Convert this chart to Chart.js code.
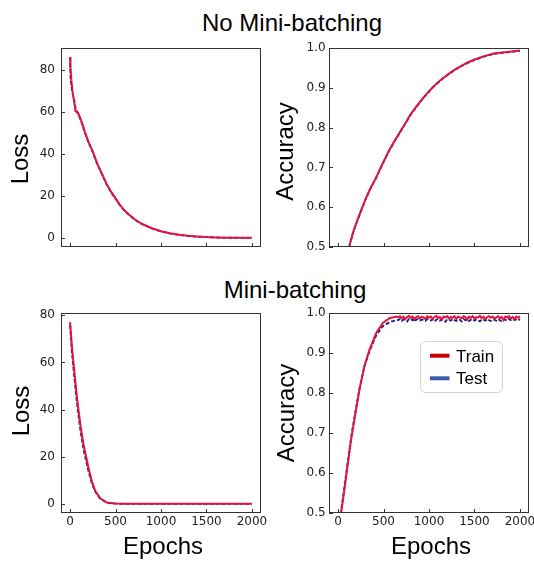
<!DOCTYPE html>
<html><head><meta charset="utf-8">
<script src="https://cdn.jsdelivr.net/npm/chart.js@4/dist/chart.umd.min.js"></script>
<style>
html,body{margin:0;padding:0;background:#fff;}
body{width:534px;height:563px;position:relative;overflow:hidden;font-family:"Liberation Sans",Arial,sans-serif;}
canvas{position:absolute;}
.ttl{position:absolute;font-size:24px;line-height:24px;color:#000;white-space:nowrap;transform:translateX(-50%);}
</style></head><body>
<div class="ttl" style="left:292px;top:11px">No Mini-batching</div>
<div class="ttl" style="left:295px;top:278px">Mini-batching</div>
<canvas id="c1" width="268" height="215" style="left:0;top:40px"></canvas>
<canvas id="c2" width="266" height="215" style="left:268px;top:40px"></canvas>
<canvas id="c3" width="268" height="258" style="left:0;top:305px"></canvas>
<canvas id="c4" width="266" height="258" style="left:268px;top:305px"></canvas>
<script>
// ---------- data ----------
const epochsLossNoMB = [0,4,15,26,44,59,75,88,118,140,162,199,250,300,350,400,450,500,550,600,650,700,750,800,900,1000,1100,1200,1300,1400,1500,1600,1700,1800,1900,2000];
const trainLossNoMB = [86,81,74.6,69.8,65,60.3,59.8,59.5,56.3,53.5,50.5,46,41,35.2,30.6,25.8,22,18.8,15.6,13,11,9.2,7.7,6.5,4.6,3.2,2.2,1.5,1.0,0.65,0.4,0.25,0.15,0.1,0.07,0.05];
const testLossNoMB = [86,76.5,72,69,66,62,60.2,59,56,53.2,50.2,45.7,40.7,35,30.4,25.6,21.8,18.6,15.4,12.9,10.9,9.1,7.6,6.4,4.5,3.1,2.1,1.4,0.95,0.6,0.38,0.23,0.14,0.09,0.06,0.04];

const epochsAccNoMB = [0,50,100,121,161,200,250,298,350,415,480,555,620,684,740,794,870,948,1010,1070,1140,1217,1280,1346,1420,1500,1600,1713,1800,1860,1930,2000];
const trainAccNoMB = [0.40,0.44,0.482,0.50,0.534,0.56,0.59,0.618,0.645,0.673,0.705,0.740,0.766,0.790,0.811,0.832,0.856,0.878,0.894,0.908,0.922,0.935,0.945,0.954,0.963,0.971,0.979,0.986,0.989,0.990,0.992,0.994];
const testAccNoMB = [0.399,0.439,0.481,0.499,0.533,0.559,0.589,0.617,0.644,0.672,0.704,0.739,0.765,0.789,0.810,0.831,0.855,0.877,0.893,0.907,0.921,0.934,0.944,0.953,0.962,0.970,0.978,0.985,0.988,0.989,0.991,0.993];

const epochsLossMB = [0,19,37,55,74,92,118,147,173,202,239,276,331,405,496,600,800,1000,1200,1400,1600,1800,2000];
const trainLossMB = [77.1,67.2,60,52.9,45.8,39.9,32.3,25.3,20.6,15.3,9.6,5.6,2.4,0.6,0.15,0.05,0.02,0.02,0.01,0.01,0.01,0.01,0.01];
const testLossMB = [75.8,64.8,57.5,50.4,43.3,37.6,30.0,23.2,18.7,13.9,8.8,5.2,2.2,0.5,0.1,0.03,0.02,0.01,0.01,0.01,0.01,0.01,0.01];

const epochsAccMBRise = [0,33,69,106,143,191,235,290,345,419,492,566,640];
const trainAccMBRise = [0.447,0.5,0.557,0.621,0.683,0.749,0.808,0.868,0.908,0.950,0.975,0.987,0.991];
const testAccMBRise = [0.452,0.506,0.564,0.628,0.689,0.754,0.811,0.867,0.904,0.944,0.967,0.977,0.982];
const epochsAccMBPlateau = [660,680,700,720,740,760,780,800,820,840,860,880,900,920,940,960,980,1000,1020,1040,1060,1080,1100,1120,1140,1160,1180,1200,1220,1240,1260,1280,1300,1320,1340,1360,1380,1400,1420,1440,1460,1480,1500,1520,1540,1560,1580,1600,1620,1640,1660,1680,1700,1720,1740,1760,1780,1800,1820,1840,1860,1880,1900,1920,1940,1960,1980,2000];
const trainAccMBPlateau = [0.989,0.992,0.987,0.991,0.985,0.990,0.993,0.988,0.991,0.984,0.990,0.992,0.987,0.991,0.989,0.985,0.992,0.988,0.991,0.986,0.990,0.993,0.987,0.990,0.983,0.991,0.989,0.992,0.986,0.990,0.988,0.992,0.985,0.991,0.989,0.987,0.992,0.990,0.984,0.991,0.988,0.992,0.986,0.990,0.989,0.993,0.987,0.991,0.985,0.990,0.992,0.988,0.991,0.986,0.989,0.992,0.987,0.990,0.982,0.991,0.989,0.992,0.986,0.990,0.984,0.991,0.988,0.992];
const testAccMBPlateau = [0.982,0.985,0.980,0.984,0.983,0.979,0.985,0.982,0.984,0.978,0.983,0.985,0.981,0.984,0.982,0.980,0.985,0.983,0.981,0.984,0.979,0.983,0.985,0.981,0.984,0.982,0.978,0.984,0.983,0.981,0.985,0.982,0.980,0.984,0.983,0.979,0.985,0.982,0.984,0.980,0.983,0.985,0.981,0.984,0.982,0.979,0.984,0.983,0.981,0.985,0.982,0.980,0.984,0.983,0.981,0.985,0.982,0.979,0.984,0.983,0.981,0.985,0.982,0.980,0.984,0.983,0.981,0.985];

const seriesNames = ['Train','Test'];
const legendColors = ['#cc0000','#3a5ca8'];
const xTickValues = [0,500,1000,1500,2000];
const lossTickValues = [0,20,40,60,80];
const accTickValues = [0.5,0.6,0.7,0.8,0.9,1.0];

// ---------- plugins ----------
const frameTicks = {
  id:'frameTicks',
  afterDraw(chart){
    const {ctx, chartArea:a, scales} = chart;
    ctx.save();
    ctx.strokeStyle='#333'; ctx.lineWidth=1;
    ctx.beginPath();
    scales.x.ticks.forEach(t=>{const px=Math.round(scales.x.getPixelForValue(t.value))+0.5; ctx.moveTo(px,a.bottom); ctx.lineTo(px,a.bottom-4);});
    scales.y.ticks.forEach(t=>{const py=Math.round(scales.y.getPixelForValue(t.value))+0.5; ctx.moveTo(a.left,py); ctx.lineTo(a.left+4,py);});
    ctx.stroke();
    ctx.strokeRect(Math.round(a.left)+0.5, Math.round(a.top)+0.5, Math.round(a.width)-1, Math.round(a.height)-1);
    ctx.restore();
  }
};
const boxLegend = {
  id:'boxLegend',
  afterDraw(chart, args, opts){
    if(!opts || !opts.show) return;
    const {ctx, chartArea:a} = chart;
    const L=a.left+91.5, T=a.top+28.5, W=82, H=51, r=5;
    ctx.save();
    ctx.fillStyle='rgba(255,255,255,0.85)';
    ctx.strokeStyle='#d4d4d4'; ctx.lineWidth=1;
    ctx.beginPath();
    ctx.moveTo(L+r,T); ctx.lineTo(L+W-r,T); ctx.arcTo(L+W,T,L+W,T+r,r);
    ctx.lineTo(L+W,T+H-r); ctx.arcTo(L+W,T+H,L+W-r,T+H,r);
    ctx.lineTo(L+r,T+H); ctx.arcTo(L,T+H,L,T+H-r,r);
    ctx.lineTo(L,T+r); ctx.arcTo(L,T,L+r,T,r); ctx.closePath();
    ctx.fill(); ctx.stroke();
    ctx.font='17px "Liberation Sans", Arial, sans-serif';
    ctx.textBaseline='middle'; ctx.textAlign='left';
    seriesNames.forEach((n,i)=>{
      const y=a.top+42.7+i*22.6;
      ctx.strokeStyle=legendColors[i]; ctx.lineWidth=4; ctx.lineCap='butt';
      ctx.beginPath(); ctx.moveTo(a.left+101,y); ctx.lineTo(a.left+120.5,y); ctx.stroke();
      ctx.fillStyle='#000'; ctx.fillText(n, a.left+127, y+1.5);
    });
    ctx.restore();
  }
};
// shifts an axis title along its axis (matplotlib label placement)
const titleShift = {
  id:'titleShift',
  afterLayout(chart, args, opts){
    ['x','y'].forEach(k=>{
      const s = chart.scales[k]; const d = (opts && opts[k]) || 0;
      if(!s || !d || s._shiftPatched) return;
      const orig = s.drawTitle;
      s.drawTitle = function(){
        if (this.isHorizontal()) { this.left += d; this.right += d; orig.call(this); this.left -= d; this.right -= d; }
        else { this.top += d; this.bottom += d; orig.call(this); this.top -= d; this.bottom -= d; }
      };
      s._shiftPatched = true;
    });
  }
};

const pts = (xs, ys) => xs.map((x,i)=>({x:x, y:ys[i]}));

function makeChart(id, cfg){
  const yFmt = cfg.decimals ? (v=>Number(v).toFixed(1)) : (v=>String(Math.round(v)));
  return new Chart(document.getElementById(id), {
    type:'line',
    data:{datasets:[
      {label:seriesNames[0], data:pts(cfg.xs, cfg.train), borderColor:'#e0143c', borderWidth:2, pointRadius:0, tension:0, fill:false},
      {label:seriesNames[1], data:pts(cfg.xs, cfg.test), borderColor:'#1c1c8c', borderWidth:1.8, borderDash:[4,2], pointRadius:0, tension:0, fill:false}
    ]},
    options:{
      responsive:false, animation:false, devicePixelRatio:1, events:[],
      layout:{padding:{top:8, right:cfg.padRight, bottom:0, left:0}},
      plugins:{legend:{display:false}, tooltip:{enabled:false}, boxLegend:{show:!!cfg.legend}, titleShift:{x:cfg.xShift||0, y:cfg.yShift||0}},
      scales:{
        x:{type:'linear', min:-100, max:2100,
          grid:{display:false, drawTicks:false, tickLength:0}, border:{display:false},
          afterBuildTicks(s){ s.ticks = xTickValues.map(v=>({value:v})); },
          ticks:{display:cfg.showX, padding:1.5, maxRotation:0, autoSkip:false,
            color:'#222', font:{family:'"DejaVu Sans"', size:12}, callback:v=>String(v)},
          title:{display:cfg.showX, text:'Epochs', color:'#000', font:{family:'"Liberation Sans", Arial', size:24, lineHeight:1}, padding:{top:0,bottom:3.5}},
          afterFit(s){ s.height = cfg.xHeight; s.paddingLeft=0; s.paddingRight=0; }
        },
        y:{min:cfg.yMin, max:cfg.yMax,
          grid:{display:false, drawTicks:false, tickLength:0}, border:{display:false},
          afterBuildTicks(s){ s.ticks = cfg.yTicks.map(v=>({value:v})); },
          ticks:{padding:cfg.tickPad, autoSkip:false,
            color:'#222', font:{family:'"DejaVu Sans"', size:12}, callback:yFmt},
          title:{display:true, text:cfg.yLabel, color:'#000', font:{family:'"Liberation Sans", Arial', size:24, lineHeight:1}, padding:{top:cfg.titlePad, bottom:0}},
          afterFit(s){ s.width = 61; s.paddingTop=0; s.paddingBottom=0; }
        }
      }
    },
    plugins:[frameTicks, boxLegend, titleShift]
  });
}

makeChart('c1',{xs:epochsLossNoMB, train:trainLossNoMB, test:testLossNoMB, yMin:-4.3, yMax:90.3, yTicks:lossTickValues, yLabel:'Loss', showX:false, xHeight:8, padRight:7, tickPad:6, titlePad:9.2, yShift:11.5});
makeChart('c2',{xs:epochsAccNoMB, train:trainAccNoMB, test:testAccNoMB, yMin:0.5, yMax:1.0, yTicks:accTickValues, decimals:true, yLabel:'Accuracy', showX:false, xHeight:8, padRight:5, tickPad:3.3, titlePad:6.5, yShift:4});
makeChart('c3',{xs:epochsLossMB, train:trainLossMB, test:testLossMB, yMin:-3.86, yMax:80.96, yTicks:lossTickValues, yLabel:'Loss', showX:true, xHeight:50, padRight:7, tickPad:6, titlePad:10, yShift:-2, xShift:2});
makeChart('c4',{xs:epochsAccMBRise.concat(epochsAccMBPlateau), train:trainAccMBRise.concat(trainAccMBPlateau), test:testAccMBRise.concat(testAccMBPlateau), yMin:0.5, yMax:1.0, yTicks:accTickValues, decimals:true, yLabel:'Accuracy', showX:true, xHeight:50, padRight:5, tickPad:3.3, titlePad:7.5, legend:true, xShift:2});
</script>
</body></html>
